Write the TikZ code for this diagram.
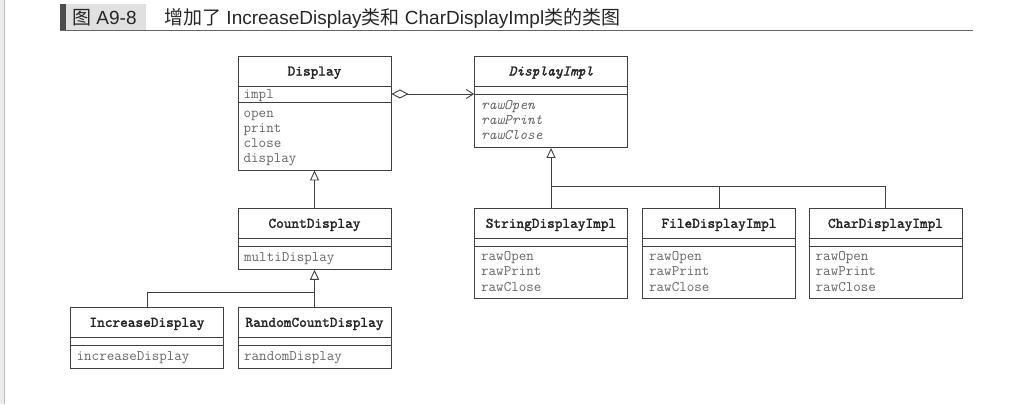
\documentclass[tikz,border=0pt]{standalone}
\usepackage{fontspec}
\newfontfamily\cjk{Noto Sans CJK SC}
\newfontfamily\lsans{Liberation Sans}
\newfontfamily\clsfont{lmmono10-regular.otf}[ItalicFont=lmmono10-italic.otf, FakeBold=2]
\usetikzlibrary{arrows.meta}

\begin{document}
\begin{tikzpicture}[x=1pt, y=-1pt,
    classbox/.style={draw=black!75, line width=0.9pt, minimum width=153, inner sep=0pt},
    cname/.style={font=\clsfont\fontsize{14.6}{15}\selectfont, text=black!85, anchor=base, inner sep=0pt},
    member/.style={font=\ttfamily\fontsize{14.6}{15}\selectfont, text=black!60, anchor=base west, inner sep=0pt},
    link/.style={draw=black!75, line width=0.9pt},
    inherit/.style={link, -{Triangle[open, length=10pt, width=9pt]}},
    title/.style={font=\lsans\fontsize{19}{22}\selectfont, text=black!85, anchor=base west, inner sep=0pt}]
    \useasboundingbox (0,0) rectangle (1019,404);

    % page edge and caption
    \fill[black!8] (0,0) rectangle (4,404);
    \draw[black!25] (4,0) -- (4,404);
    \fill[black!12] (60,4) rectangle (146,30);
    \fill[black!70] (60,4) rectangle (66,30);
    \draw[black!60, line width=0.8pt] (60,30) -- (973,30);
    \node[title] (fig-no) at (72,24.5) {{\cjk 图} A9-8};
    \node[title] (fig-title) at (164,24.5) {{\cjk 增加了} IncreaseDisplay{\cjk 类和} CharDisplayImpl{\cjk 类的类图}};

    % Display
    \node[classbox, minimum height=114] (display) at (314.5,113) {};
    \draw[link] (237.5,86) -- (391.5,86);
    \draw[link] (237.5,102) -- (391.5,102);
    \node[cname] (display-name) at (314.5,75.5) {Display};
    \node[member] (display-impl) at (243.5,98) {impl};
    \foreach \m [count=\i] in {open,print,close,display}
        \node[member] (display-m\i) at (243.5,102+15*\i) {\m};

    % DisplayImpl
    \node[classbox, minimum height=91.5] (impl) at (551,101.75) {};
    \draw[link] (474.5,86) -- (627.5,86);
    \draw[link] (474.5,94) -- (627.5,94);
    \node[cname, font=\clsfont\itshape\fontsize{14.6}{15}\selectfont] (impl-name) at (551,75.5) {DisplayImpl};
    \foreach \m [count=\i] in {rawOpen,rawPrint,rawClose}
        \node[member, font=\ttfamily\itshape\fontsize{14.6}{15}\selectfont] (impl-m\i) at (481,94+15*\i) {\m};

    % CountDisplay
    \node[classbox, minimum height=61] (count) at (314.5,238.8) {};
    \draw[link] (238,238.3) -- (391,238.3);
    \draw[link] (238,246) -- (391,246);
    \node[cname] (count-name) at (314.5,227.8) {CountDisplay};
    \node[member] (count-m1) at (244,261.5) {multiDisplay};

    % IncreaseDisplay and RandomCountDisplay
    \node[classbox, minimum height=61] (increase) at (147,337.8) {};
    \draw[link] (70.5,337.7) -- (223.5,337.7);
    \draw[link] (70.5,345) -- (223.5,345);
    \node[cname] (increase-name) at (147,326.8) {IncreaseDisplay};
    \node[member] (increase-m1) at (76.5,360.5) {increaseDisplay};

    \node[classbox, minimum height=61] (random) at (314.5,337.8) {};
    \draw[link] (238,337.7) -- (391,337.7);
    \draw[link] (238,345) -- (391,345);
    \node[cname] (random-name) at (314.5,326.8) {RandomCountDisplay};
    \node[member] (random-m1) at (244,360.5) {randomDisplay};

    % the three implementations
    \foreach \n/\x/\t in {stringimpl/551/StringDisplayImpl, fileimpl/719/FileDisplayImpl, charimpl/885.5/CharDisplayImpl} {
        \node[classbox, minimum height=90] (\n) at (\x,253.3) {};
        \draw[link] (\x-76.5,238.3) -- (\x+76.5,238.3);
        \draw[link] (\x-76.5,246) -- (\x+76.5,246);
        \node[cname] (\n-name) at (\x,227.8) {\t};
        \foreach \m [count=\i] in {rawOpen,rawPrint,rawClose}
            \node[member] (\n-m\i) at (\x-70,245.5+15.2*\i) {\m};
    }

    % relations
    \coordinate (implrow) at (0,94);
    \coordinate (cbranch) at (0,292);
    \coordinate (ibranch) at (0,186);
    \draw[link, {Diamond[open, length=17pt, width=9pt]}-{Straight Barb[length=7pt, width=9pt]}] (display.east |- implrow) -- (impl.west |- implrow);
    \draw[inherit] (count.north) -- (display.south);
    \draw[inherit] (random.north) -- (count.south);
    \draw[link] (increase.north) |- (random.north |- cbranch);
    \draw[inherit] (stringimpl.north) -- (impl.south);
    \foreach \n in {fileimpl,charimpl}
        \draw[link] (\n.north) |- (stringimpl.north |- ibranch);
\end{tikzpicture}
\end{document}
